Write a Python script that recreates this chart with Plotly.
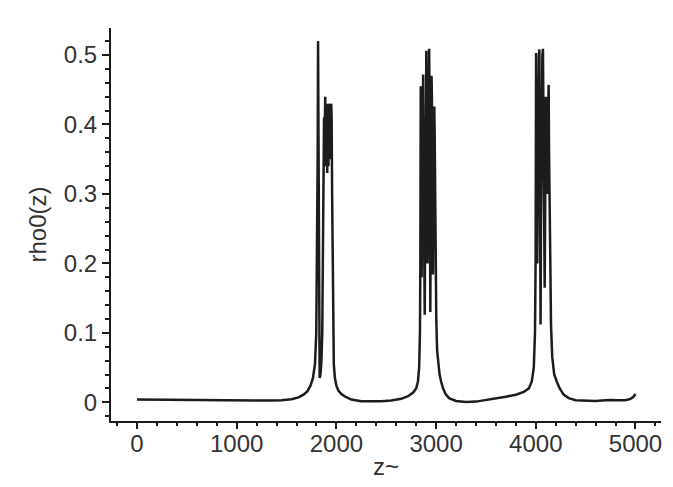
import plotly.graph_objects as go

# ---- data ----
z_vals = [
    0, 200, 400, 600, 800, 1000, 1200, 1350, 1450, 1550, 1620, 1670, 1710, 1740,
    1765, 1785, 1798, 1806, 1812, 1816,
    1820, 1824, 1828, 1832, 1840, 1850, 1858, 1864, 1868,
    1872, 1876, 1880, 1884, 1888, 1892, 1896, 1900, 1904, 1908, 1912, 1916, 1920,
    1924, 1928, 1932, 1936, 1940, 1944, 1948, 1952,
    1957, 1962, 1967, 1974, 1985, 2000, 2020, 2050, 2090, 2150, 2250, 2350, 2450,
    2550, 2650, 2720, 2770, 2800, 2818, 2830, 2838, 2842,
    2846, 2850, 2855, 2860, 2865, 2870, 2874, 2878, 2882, 2886, 2890, 2894, 2898,
    2902, 2906, 2910, 2914, 2918, 2922, 2926, 2930, 2934, 2938, 2942, 2946, 2950,
    2954, 2958, 2962, 2966, 2969, 2973, 2977, 2982, 2986, 2990, 2993,
    2997, 3002, 3010, 3020, 3035, 3050, 3070, 3095, 3130, 3200, 3300, 3400, 3500,
    3600, 3700, 3800, 3880, 3930, 3960, 3980, 3992, 3998,
    4003, 4007, 4011, 4015, 4019, 4023, 4027, 4032, 4036, 4040, 4044, 4048, 4052,
    4056, 4060, 4066, 4072, 4076, 4080, 4084, 4089, 4093, 4097, 4101, 4105, 4109,
    4113, 4117, 4121, 4125, 4129, 4133, 4138,
    4145, 4153, 4165, 4185, 4210, 4240, 4280, 4330, 4400, 4500, 4600, 4700, 4750,
    4820, 4900, 4950, 4980, 5000,
]
rho_vals = [
    0.0040, 0.0038, 0.0033, 0.0030, 0.0025, 0.0022, 0.0022, 0.0025, 0.0030, 0.0045,
    0.0070, 0.011, 0.016, 0.024, 0.035, 0.055, 0.10, 0.20, 0.35, 0.52,
    0.30, 0.10, 0.045, 0.035, 0.040, 0.060, 0.10, 0.20, 0.30,
    0.38, 0.41, 0.36, 0.42, 0.44, 0.36, 0.34, 0.43, 0.36, 0.33, 0.42, 0.35, 0.34,
    0.43, 0.36, 0.35, 0.425, 0.38, 0.37, 0.43, 0.41,
    0.30, 0.18, 0.10, 0.055, 0.035, 0.024, 0.017, 0.012, 0.008, 0.004, 0.0015,
    0.001, 0.0015, 0.0025, 0.005, 0.009, 0.014, 0.020, 0.030, 0.050, 0.10, 0.20,
    0.455, 0.25, 0.18, 0.35, 0.44, 0.472, 0.35, 0.25, 0.15, 0.126, 0.25, 0.40,
    0.48, 0.506, 0.40, 0.30, 0.20, 0.30, 0.45, 0.50, 0.509, 0.45, 0.30, 0.13,
    0.25, 0.40, 0.47, 0.44, 0.30, 0.20, 0.184, 0.30, 0.40, 0.426, 0.38, 0.30, 0.28,
    0.20, 0.12, 0.075, 0.055, 0.040, 0.030, 0.020, 0.012, 0.006, 0.002, 0.0005,
    0.001, 0.003, 0.005, 0.008, 0.011, 0.015, 0.020, 0.030, 0.050, 0.10, 0.20,
    0.503, 0.40, 0.30, 0.20, 0.30, 0.42, 0.49, 0.50, 0.508, 0.40, 0.25, 0.112,
    0.25, 0.40, 0.48, 0.50, 0.509, 0.42, 0.30, 0.20, 0.165, 0.25, 0.35, 0.44,
    0.40, 0.33, 0.30, 0.36, 0.42, 0.45, 0.457, 0.36, 0.28,
    0.20, 0.11, 0.065, 0.040, 0.030, 0.020, 0.011, 0.006, 0.003, 0.002, 0.002,
    0.003, 0.0035, 0.003, 0.003, 0.005, 0.008, 0.012,
]

x_ticks = [0, 1000, 2000, 3000, 4000, 5000]
x_tick_labels = ["0", "1000", "2000", "3000", "4000", "5000"]
y_ticks = [0, 0.1, 0.2, 0.3, 0.4, 0.5]
y_tick_labels = ["0", "0.1", "0.2", "0.3", "0.4", "0.5"]
x_title = "z~"
y_title = "rho0(z)"

FONT = "Liberation Sans, Arial, Helvetica, sans-serif"
INK = "#1c1c1c"
TXT = "#333333"

fig = go.Figure()
fig.add_trace(go.Scatter(
    x=z_vals, y=rho_vals, mode="lines",
    line=dict(color=INK, width=2.5),
    showlegend=False, hoverinfo="skip",
))

fig.update_layout(
    width=673, height=487,
    margin=dict(l=103, r=20, t=20, b=74, autoexpand=False),
    paper_bgcolor="white", plot_bgcolor="white",
    font=dict(family=FONT, size=24, color=TXT),
    xaxis=dict(
        range=[-261, 5256], showgrid=False, zeroline=False,
        showline=True, linecolor=INK, linewidth=2,
        tickmode="array", tickvals=x_ticks, ticktext=x_tick_labels,
        ticks="outside", ticklen=6, tickwidth=2, tickcolor=INK,
        minor=dict(ticks="outside", ticklen=3, tickwidth=2, tickcolor=INK, dtick=200, tick0=0),
        tickfont=dict(family=FONT, size=24, color=TXT),
        ticklabelstandoff=-6,
        title=dict(text=x_title, font=dict(family=FONT, size=24, color=TXT), standoff=2),
        automargin=False,
    ),
    yaxis=dict(
        range=[-0.0269, 0.5389], showgrid=False, zeroline=False,
        showline=True, linecolor=INK, linewidth=2,
        tickmode="array", tickvals=y_ticks, ticktext=y_tick_labels,
        ticks="outside", ticklen=7, tickwidth=2, tickcolor=INK,
        minor=dict(ticks="outside", ticklen=4, tickwidth=2, tickcolor=INK, dtick=0.02, tick0=0),
        tickfont=dict(family=FONT, size=24, color=TXT),
        title=dict(text=y_title, font=dict(family=FONT, size=24, color=TXT), standoff=10),
        automargin=False,
    ),
)

fig.write_html("out.html")
